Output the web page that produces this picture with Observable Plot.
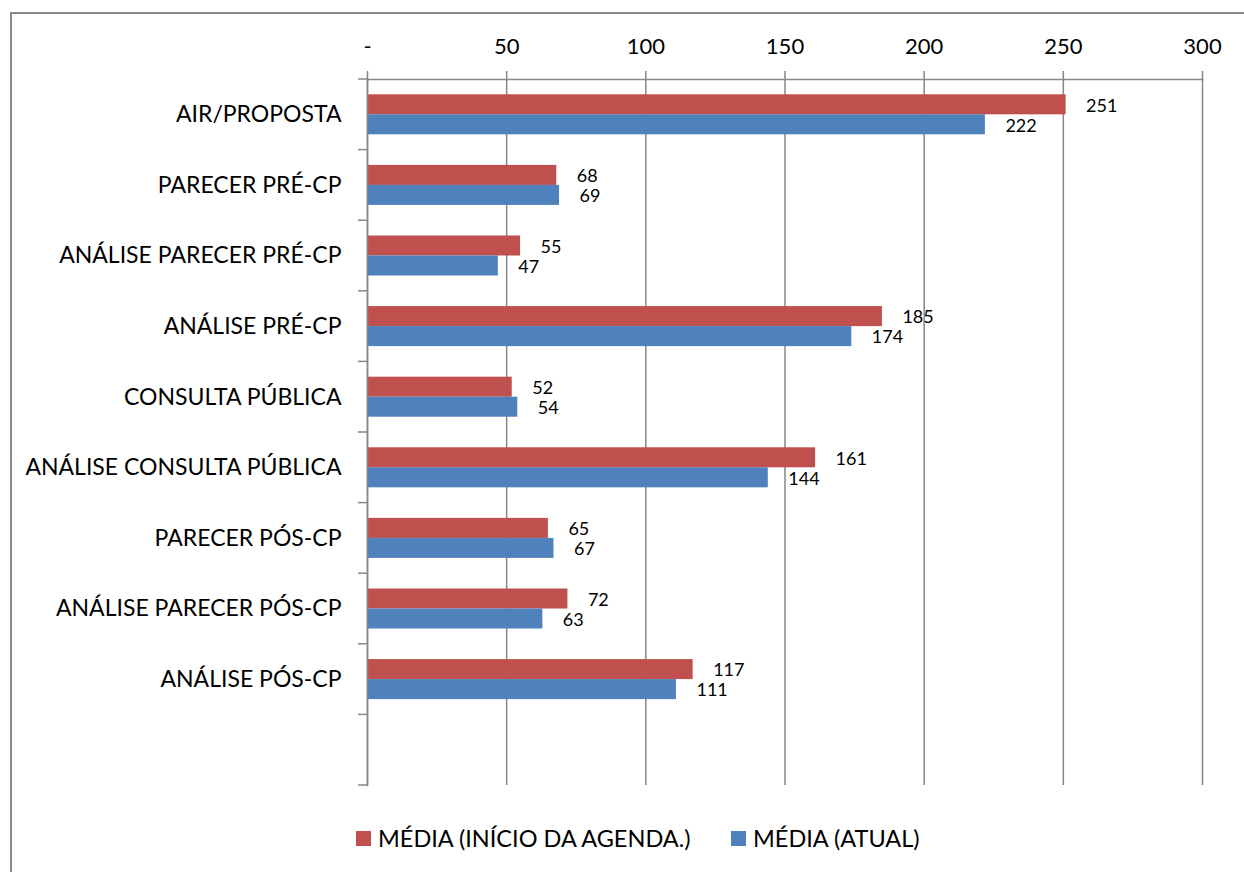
<!DOCTYPE html>
<html>
<head>
<meta charset="utf-8">
<script src="https://cdn.jsdelivr.net/npm/d3@7"></script>
<script src="https://cdn.jsdelivr.net/npm/@observablehq/plot@0.6"></script>
<style>
  html, body { margin: 0; padding: 0; background: #fff; overflow: hidden; }
  #wrap { position: relative; width: 1244px; height: 872px; font-family: Lato, "Open Sans", sans-serif; }
  #border { position: absolute; left: 10px; top: 12px; width: 1400px; height: 1000px;
            border-left: 2px solid #8a8a8a; border-top: 2px solid #8a8a8a; }
  #chart { position: absolute; left: 0; top: 0; }
  #legend { position: absolute; top: 824px; left: 0; width: 1244px; height: 28px; font-size: 23.5px; color: #000; }
  .item { position: absolute; top: 0; display: flex; align-items: center; height: 28px; white-space: nowrap; }
  .sw { width: 15px; height: 15px; margin-right: 7px; display: inline-block; }
</style>
</head>
<body>
<div id="wrap">
  <div id="border"></div>
  <div id="chart"></div>
  <div id="legend"></div>
</div>
<script>
const categories = [
  "AIR/PROPOSTA",
  "PARECER PRÉ-CP",
  "ANÁLISE PARECER PRÉ-CP",
  "ANÁLISE PRÉ-CP",
  "CONSULTA PÚBLICA",
  "ANÁLISE CONSULTA PÚBLICA",
  "PARECER PÓS-CP",
  "ANÁLISE PARECER PÓS-CP",
  "ANÁLISE PÓS-CP"
];
const mediaInicio = [251, 68, 55, 185, 52, 161, 65, 72, 117];
const mediaAtual = [222, 69, 47, 174, 54, 144, 67, 63, 111];
const xTicks = [0, 50, 100, 150, 200, 250, 300];
const xTickLabels = ["-", "50", "100", "150", "200", "250", "300"];
const seriesNames = ["MÉDIA (INÍCIO DA AGENDA.)", "MÉDIA (ATUAL)"];
const seriesColors = ["#C0504D", "#4F81BD"];

const rowsInicio = categories.map((c, i) => ({category: c, value: mediaInicio[i]}));
const rowsAtual = categories.map((c, i) => ({category: c, value: mediaAtual[i]}));
const yDomain = [...categories, "\u200b"]; // trailing empty slot as in the original

const grid = "#868686";
const W = 1244, H = 800;

const plot = Plot.plot({
  width: W,
  height: H,
  marginLeft: 367,
  marginRight: 42,
  marginTop: 79,
  marginBottom: 15,
  style: {fontFamily: "Lato, 'Open Sans', sans-serif", fontSize: "22px", color: "#000", background: "transparent"},
  x: {domain: [0, 300], axis: null, label: null},
  y: {domain: yDomain, paddingInner: 0.433, paddingOuter: 0.2165, round: false, axis: null, label: null},
  marks: [
    Plot.gridX(xTicks, {stroke: grid, strokeOpacity: 1, strokeWidth: 1.5}),
    Plot.axisX(xTicks, {
      anchor: "top", tickSize: 9, tickPadding: 17, stroke: grid, strokeWidth: 1.5, label: null,
      tickFormat: (d) => xTickLabels[xTicks.indexOf(d)], fontSize: 22, fill: "#000"
    }),
    Plot.axisY(categories, {
      anchor: "left", tickSize: 0, tickPadding: 26, fontSize: 23, fill: "#000", label: null
    }),
    Plot.barX(rowsInicio, {x: "value", y: "category", fill: seriesColors[0], insetBottom: 20}),
    Plot.barX(rowsAtual, {x: "value", y: "category", fill: seriesColors[1], insetTop: 20}),
    Plot.text(rowsInicio, {x: "value", y: "category", text: (d) => String(d.value), dx: 20, dy: -9, textAnchor: "start", fontSize: 18, fill: "#000"}),
    Plot.text(rowsAtual, {x: "value", y: "category", text: (d) => String(d.value), dx: 20, dy: 11, textAnchor: "start", fontSize: 18, fill: "#000"}),
    Plot.frame({anchor: "top", stroke: grid, strokeWidth: 1.5}),
    Plot.frame({anchor: "left", stroke: grid, strokeWidth: 1.5})
  ]
});

// category boundary ticks on the y axis, from the plot's own band scale
const ys = plot.scale("y");
const xs = plot.scale("x");
const x0 = xs.apply(0);
const half = (ys.step - ys.bandwidth) / 2;
const bounds = ys.domain.map((d) => ys.apply(d) - half);
bounds.push(ys.apply(ys.domain[ys.domain.length - 1]) + ys.bandwidth + half);
const g = d3.select(plot).append("g").attr("stroke", grid).attr("stroke-width", 1.5);
bounds.forEach((b) => {
  g.append("line").attr("x1", x0 - 9).attr("x2", x0).attr("y1", b).attr("y2", b);
});

document.getElementById("chart").appendChild(plot);

// legend
const legend = document.getElementById("legend");
const legendLeft = [356, 731];
seriesNames.forEach((name, i) => {
  const item = document.createElement("div");
  item.className = "item";
  item.style.left = legendLeft[i] + "px";
  const sw = document.createElement("span");
  sw.className = "sw";
  sw.style.background = seriesColors[i];
  const t = document.createElement("span");
  t.textContent = name;
  item.appendChild(sw);
  item.appendChild(t);
  legend.appendChild(item);
});
</script>
</body>
</html>
